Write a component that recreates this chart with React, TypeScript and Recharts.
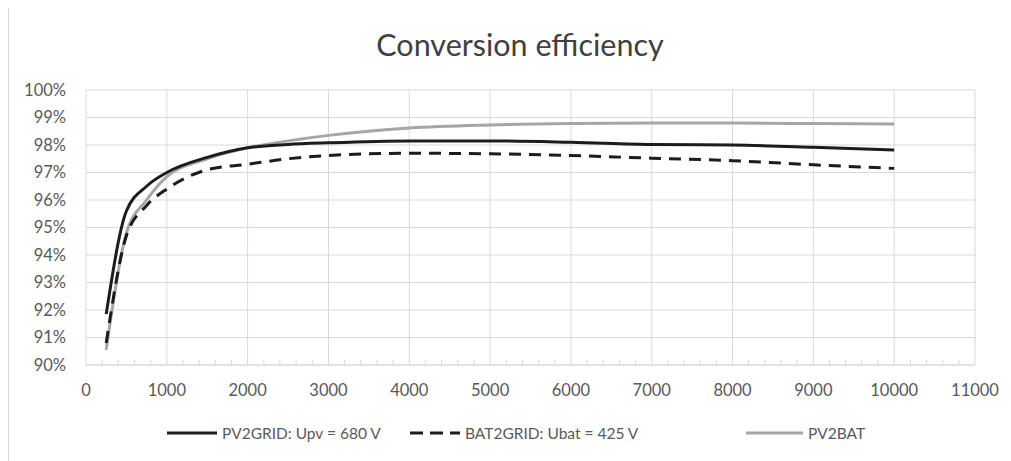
import { LineChart, Line, XAxis, YAxis, ReferenceLine } from 'recharts'

const power = [250, 500, 750, 1000, 1500, 2000, 2500, 3000, 4000, 5000, 6000, 7000, 8000, 9000, 10000]
const pv2grid = [91.85, 95.6, 96.5, 97.0, 97.55, 97.9, 98.02, 98.08, 98.15, 98.15, 98.1, 98.02, 98.0, 97.92, 97.82]
const bat2grid = [90.8, 94.7, 95.8, 96.4, 97.1, 97.3, 97.5, 97.62, 97.7, 97.68, 97.62, 97.52, 97.43, 97.28, 97.15]
const pv2bat = [90.55, 94.8, 96.0, 96.85, 97.5, 97.9, 98.15, 98.35, 98.62, 98.73, 98.78, 98.8, 98.8, 98.78, 98.76]

const xMajor = [0, 1000, 2000, 3000, 4000, 5000, 6000, 7000, 8000, 9000, 10000, 11000]
const yTicks = [90, 91, 92, 93, 94, 95, 96, 97, 98, 99, 100]

const FONT = 'Lato, "Open Sans", sans-serif'
const TEXT = '#595959'
const GRID = '#d9d9d9'

const data = power.map((p, i) => ({
  p,
  pv2grid: pv2grid[i],
  bat2grid: bat2grid[i],
  pv2bat: pv2bat[i],
}))

// minor ticks every 200 between the labelled ones
const xTicks: number[] = []
for (let v = 0; v <= 11000; v += 200) xTicks.push(v)

const TICK_MARGIN = 19

function XTick(props: any) {
  const { x, y, payload } = props
  const v = payload.value
  const axisY = y - TICK_MARGIN
  if (v % 1000 !== 0) {
    return <line x1={x} x2={x} y1={axisY} y2={axisY - 5} stroke={GRID} strokeWidth={1} />
  }
  return (
    <text x={x} y={y} dy="0.71em" textAnchor="middle" fill={TEXT} fontSize={16.5} fontFamily={FONT}>
      {v}
    </text>
  )
}

function LegendItem({ label, color, dash, width }: { label: string; color: string; dash?: string; width: number }) {
  return (
    <div style={{ display: 'flex', alignItems: 'center' }}>
      <svg width={width} height={8} style={{ marginRight: 5 }}>
        <line x1={0} x2={width} y1={4} y2={4} stroke={color} strokeWidth={3} strokeDasharray={dash} />
      </svg>
      <span>{label}</span>
    </div>
  )
}

export default function App() {
  return (
    <div style={{ position: 'relative', width: 1003, height: 453, background: '#fff', fontFamily: FONT }}>
      <div style={{ position: 'absolute', left: 0, top: -1, width: 1003, height: 454, borderLeft: `1px solid ${GRID}`, borderTop: `1px solid ${GRID}` }} />
      <div
        style={{
          position: 'absolute',
          left: 0,
          width: 1024,
          top: 18,
          textAlign: 'center',
          fontSize: 30.5,
          color: '#404040',
        }}
      >
        Conversion efficiency
      </div>
      <div style={{ position: 'absolute', top: 0, left: 0 }}>
        <LineChart width={1003} height={453} data={data} margin={{ top: 82, right: 36, left: 18, bottom: 56 }}>
          {yTicks.map((t) => (
            <ReferenceLine key={'h' + t} y={t} stroke={GRID} strokeWidth={1} />
          ))}
          {xMajor.map((t) => (
            <ReferenceLine key={'v' + t} x={t} stroke={GRID} strokeWidth={1} />
          ))}
          <XAxis
            dataKey="p"
            type="number"
            domain={[0, 11000]}
            ticks={xTicks}
            interval={0}
            height={40}
            tickSize={0}
            tickMargin={TICK_MARGIN}
            tickLine={false}
            axisLine={{ stroke: GRID }}
            tick={<XTick />}
          />
          <YAxis
            type="number"
            domain={[90, 100]}
            ticks={yTicks}
            interval={0}
            width={60}
            tickSize={0}
            tickMargin={20}
            tickLine={false}
            axisLine={false}
            tickFormatter={(v) => `${v}%`}
            tick={{ fill: TEXT, fontSize: 16.5, fontFamily: FONT }}
          />
          <Line type="monotone" dataKey="pv2bat" stroke="#a6a6a6" strokeWidth={3} dot={false} isAnimationActive={false} />
          <Line type="monotone" dataKey="bat2grid" stroke="#1c1c1c" strokeWidth={3} strokeDasharray="12 8" dot={false} isAnimationActive={false} />
          <Line type="monotone" dataKey="pv2grid" stroke="#1c1c1c" strokeWidth={3} dot={false} isAnimationActive={false} />
        </LineChart>
      </div>
      <div
        style={{
          position: 'absolute',
          top: 416,
          left: 0,
          width: 1003,
          height: 20,
          fontSize: 15.5,
          color: TEXT,
        }}
      >
        <div style={{ position: 'absolute', left: 159, top: 0 }}>
          <LegendItem label="PV2GRID: Upv = 680 V" color="#1c1c1c" width={50} />
        </div>
        <div style={{ position: 'absolute', left: 402, top: 0 }}>
          <LegendItem label="BAT2GRID: Ubat = 425 V" color="#1c1c1c" dash="13 7" width={50} />
        </div>
        <div style={{ position: 'absolute', left: 738, top: 0 }}>
          <LegendItem label="PV2BAT" color="#a6a6a6" width={57} />
        </div>
      </div>
    </div>
  )
}
